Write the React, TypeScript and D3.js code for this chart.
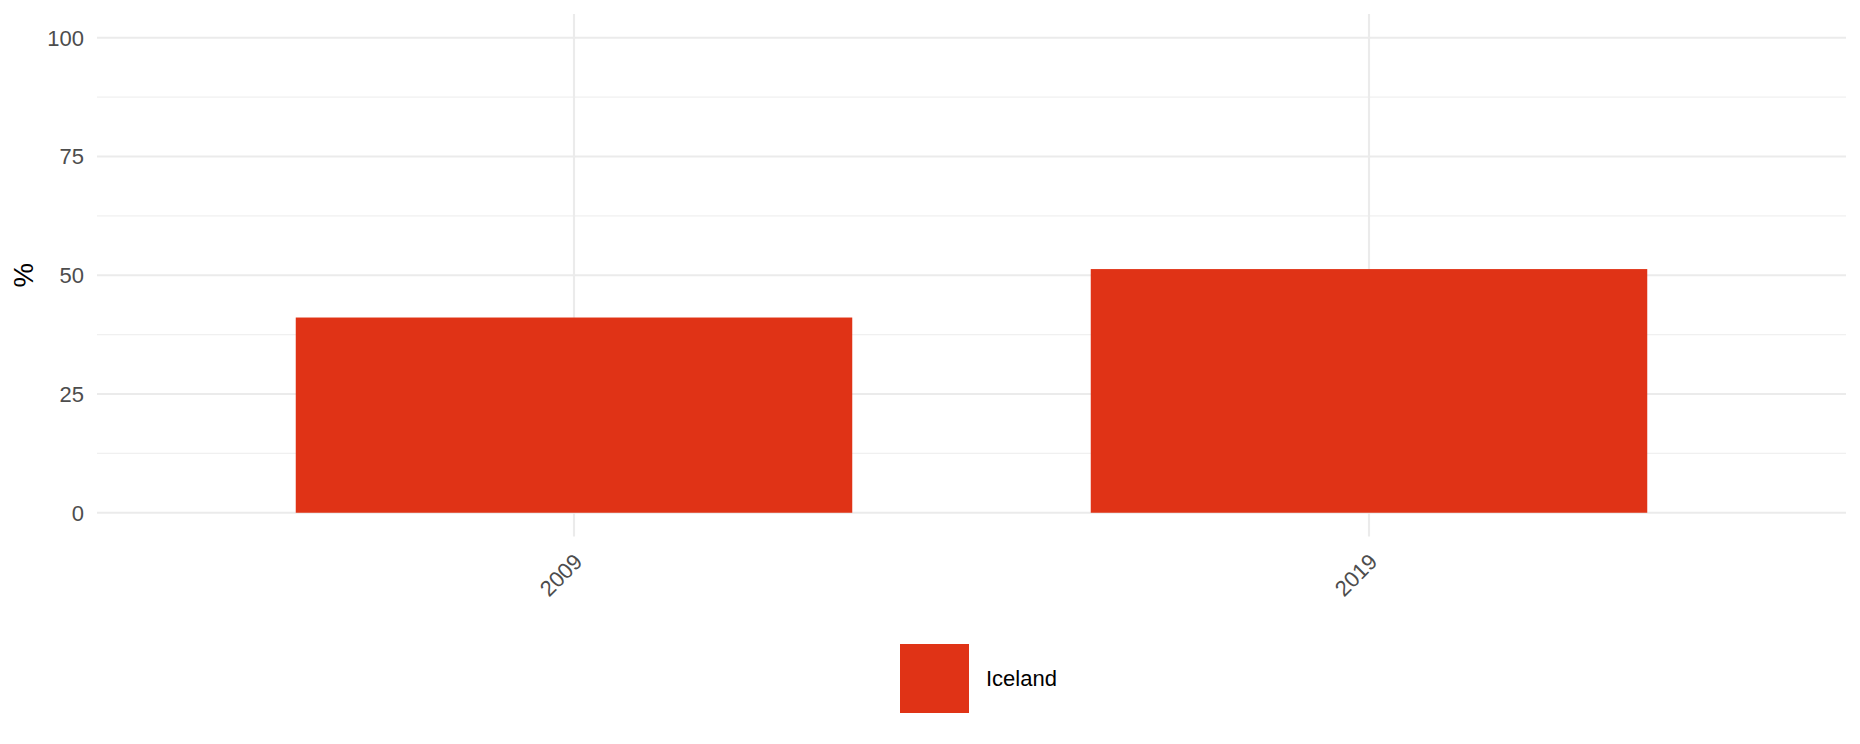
import React, { useEffect, useRef } from "react";
import * as d3 from "d3";

const years = ["2009", "2019"];
const shares = [41.1, 51.3];
const yTicks = [0, 25, 50, 75, 100];
const yMinorTicks = [12.5, 37.5, 62.5, 87.5];
const seriesName = "Iceland";
const barColor = "#e03316";

const width = 1860;
const height = 744;
const margin = { top: 14, right: 14, bottom: 207.5, left: 97 };
const font = "'Liberation Sans', Arial, sans-serif";

const App = (): JSX.Element => {
  const ref = useRef<SVGSVGElement>(null);

  useEffect(() => {
    const svg = d3.select(ref.current);
    svg.selectAll("*").remove();

    const innerW = width - margin.left - margin.right;
    const innerH = height - margin.top - margin.bottom;

    const x = d3
      .scaleBand<string>()
      .domain(years)
      .range([0, innerW])
      .paddingInner(0.3)
      .paddingOuter(0.25);
    const y = d3.scaleLinear().domain([-5, 105]).range([innerH, 0]);

    const g = svg
      .append("g")
      .attr("transform", `translate(${margin.left},${margin.top})`);

    // minor grid
    g.selectAll(".minor")
      .data(yMinorTicks)
      .enter()
      .append("line")
      .attr("x1", 0)
      .attr("x2", innerW)
      .attr("y1", (d) => y(d))
      .attr("y2", (d) => y(d))
      .attr("stroke", "#f0f0f0")
      .attr("stroke-width", 1.1);

    // major grid
    g.selectAll(".major")
      .data(yTicks)
      .enter()
      .append("line")
      .attr("x1", 0)
      .attr("x2", innerW)
      .attr("y1", (d) => y(d))
      .attr("y2", (d) => y(d))
      .attr("stroke", "#ebebeb")
      .attr("stroke-width", 2.1);

    g.selectAll(".vgrid")
      .data(years)
      .enter()
      .append("line")
      .attr("x1", (d) => (x(d) as number) + x.bandwidth() / 2)
      .attr("x2", (d) => (x(d) as number) + x.bandwidth() / 2)
      .attr("y1", 0)
      .attr("y2", innerH)
      .attr("stroke", "#ebebeb")
      .attr("stroke-width", 2.1);

    // bars
    g.selectAll(".bar")
      .data(years)
      .enter()
      .append("rect")
      .attr("x", (d) => x(d) as number)
      .attr("width", x.bandwidth())
      .attr("y", (d, i) => y(shares[i]))
      .attr("height", (d, i) => y(0) - y(shares[i]))
      .attr("fill", barColor);

    // y tick labels
    g.selectAll(".ylab")
      .data(yTicks)
      .enter()
      .append("text")
      .attr("x", -13)
      .attr("y", (d) => y(d))
      .attr("dy", "0.36em")
      .attr("text-anchor", "end")
      .attr("font-family", font)
      .attr("font-size", 22)
      .attr("fill", "#4d4d4d")
      .text((d) => String(d));

    // x tick labels
    g.selectAll(".xlab")
      .data(years)
      .enter()
      .append("text")
      .attr(
        "transform",
        (d) =>
          `translate(${(x(d) as number) + x.bandwidth() / 2 + 4},${innerH + 21}) rotate(-45)`
      )
      .attr("dy", "0.36em")
      .attr("text-anchor", "end")
      .attr("font-family", font)
      .attr("font-size", 22)
      .attr("fill", "#4d4d4d")
      .text((d) => d);

    // y axis title
    svg
      .append("text")
      .attr("transform", `translate(33,${margin.top + innerH / 2}) rotate(-90)`)
      .attr("text-anchor", "middle")
      .attr("font-family", font)
      .attr("font-size", 27.5)
      .attr("fill", "#000")
      .text("%");

    // legend
    const legend = svg.append("g").attr("transform", "translate(900,644)");
    legend
      .append("rect")
      .attr("width", 69)
      .attr("height", 69)
      .attr("fill", barColor);
    legend
      .append("text")
      .attr("x", 86)
      .attr("y", 34.5)
      .attr("dy", "0.36em")
      .attr("font-family", font)
      .attr("font-size", 22)
      .attr("fill", "#000")
      .text(seriesName);
  }, []);

  return (
    <svg
      ref={ref}
      width={width}
      height={height}
      style={{ position: "absolute", left: 0, top: 0, background: "#fff" }}
    />
  );
};

export default App;
